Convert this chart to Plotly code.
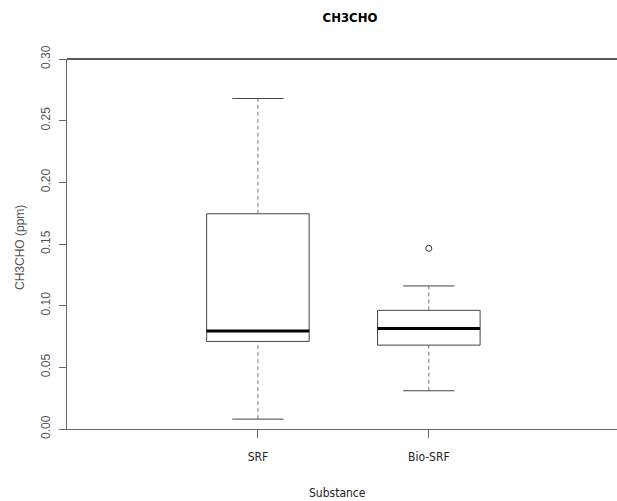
import plotly.graph_objects as go

categories = ["SRF", "Bio-SRF"]
positions = [1, 2]
lower_whisker = [0.008, 0.031]
q1 = [0.071, 0.068]
median = [0.0795, 0.0815]
q3 = [0.1745, 0.0962]
upper_whisker = [0.268, 0.116]
outlier_pos = [2]
outlier_vals = [0.1465]

y_ticks = [0.00, 0.05, 0.10, 0.15, 0.20, 0.25, 0.30]
y_tick_labels = ["0.00", "0.05", "0.10", "0.15", "0.20", "0.25", "0.30"]

BOX_HALF = 0.3
CAP_HALF = 0.15
NARROW = "DejaVu Sans Condensed, Liberation Sans, sans-serif"
ARIAL = "Liberation Sans, Arial, sans-serif"

fig = go.Figure()

for i, c in enumerate(positions):
    fig.add_trace(go.Scatter(x=[c, c], y=[q3[i], upper_whisker[i]], mode="lines",
                             line=dict(color="#777777", width=1, dash="4px,3px"),
                             showlegend=False, hoverinfo="skip"))
    fig.add_trace(go.Scatter(x=[c, c], y=[lower_whisker[i], q1[i]], mode="lines",
                             line=dict(color="#777777", width=1, dash="4px,3px"),
                             showlegend=False, hoverinfo="skip"))
    for v in (lower_whisker[i], upper_whisker[i]):
        fig.add_trace(go.Scatter(x=[c - CAP_HALF, c + CAP_HALF], y=[v, v], mode="lines",
                                 line=dict(color="#444444", width=1),
                                 showlegend=False, hoverinfo="skip"))
    fig.add_trace(go.Scatter(x=[c - BOX_HALF, c + BOX_HALF, c + BOX_HALF, c - BOX_HALF, c - BOX_HALF],
                             y=[q1[i], q1[i], q3[i], q3[i], q1[i]], mode="lines",
                             line=dict(color="#444444", width=1),
                             fill="toself", fillcolor="white",
                             showlegend=False, hoverinfo="skip"))
    fig.add_trace(go.Scatter(x=[c - BOX_HALF, c + BOX_HALF], y=[median[i], median[i]], mode="lines",
                             line=dict(color="black", width=3),
                             showlegend=False, hoverinfo="skip"))

fig.add_trace(go.Scatter(x=outlier_pos, y=outlier_vals, mode="markers",
                         marker=dict(symbol="circle-open", size=6, color="#333333", line=dict(width=1)),
                         showlegend=False, hoverinfo="skip"))

fig.update_layout(
    width=617, height=501,
    margin=dict(l=67, r=0, t=59, b=72),
    plot_bgcolor="white", paper_bgcolor="white",
    title=dict(text="<b>CH3CHO</b>", x=350 / 617, xanchor="center", y=1 - 17 / 501, yanchor="middle",
               font=dict(family=NARROW, size=13, color="black")),
    xaxis=dict(range=[-0.117, 3.101], tickvals=positions, ticktext=categories,
               showgrid=False, zeroline=False, showline=True, linecolor="#666666", linewidth=1,
               ticks="outside", ticklen=8, tickcolor="#666666", ticklabelstandoff=9,
               tickfont=dict(family=NARROW, size=12, color="#222222")),
    yaxis=dict(range=[0, 0.30], tickvals=y_ticks, ticktext=y_tick_labels, tickangle=-90,
               showgrid=False, zeroline=False, showline=True, linecolor="#666666", linewidth=1,
               ticks="outside", ticklen=7, tickcolor="#666666", ticklabelstandoff=4,
               tickfont=dict(family=ARIAL, size=12, color="#555555")),
    shapes=[dict(type="line", xref="paper", yref="paper", x0=0, x1=1, y0=1, y1=1,
                 line=dict(color="#222222", width=1.5))],
    annotations=[
        dict(text="Substance", xref="paper", yref="paper", x=(337 - 67) / 550, y=-(493 - 429) / 370,
             xanchor="center", yanchor="middle", showarrow=False,
             font=dict(family=NARROW, size=12, color="#222222")),
        dict(text="CH3CHO (ppm)", xref="paper", yref="paper", x=-(67 - 20) / 550, y=0.5 - (248 - 244) / 370,
             xanchor="center", yanchor="middle", textangle=-90, showarrow=False,
             font=dict(family=ARIAL, size=12, color="#555555")),
    ],
)

fig.write_html("out.html", config={"displayModeBar": False},
               post_script="document.body.style.margin='0';document.body.style.padding='0';")
